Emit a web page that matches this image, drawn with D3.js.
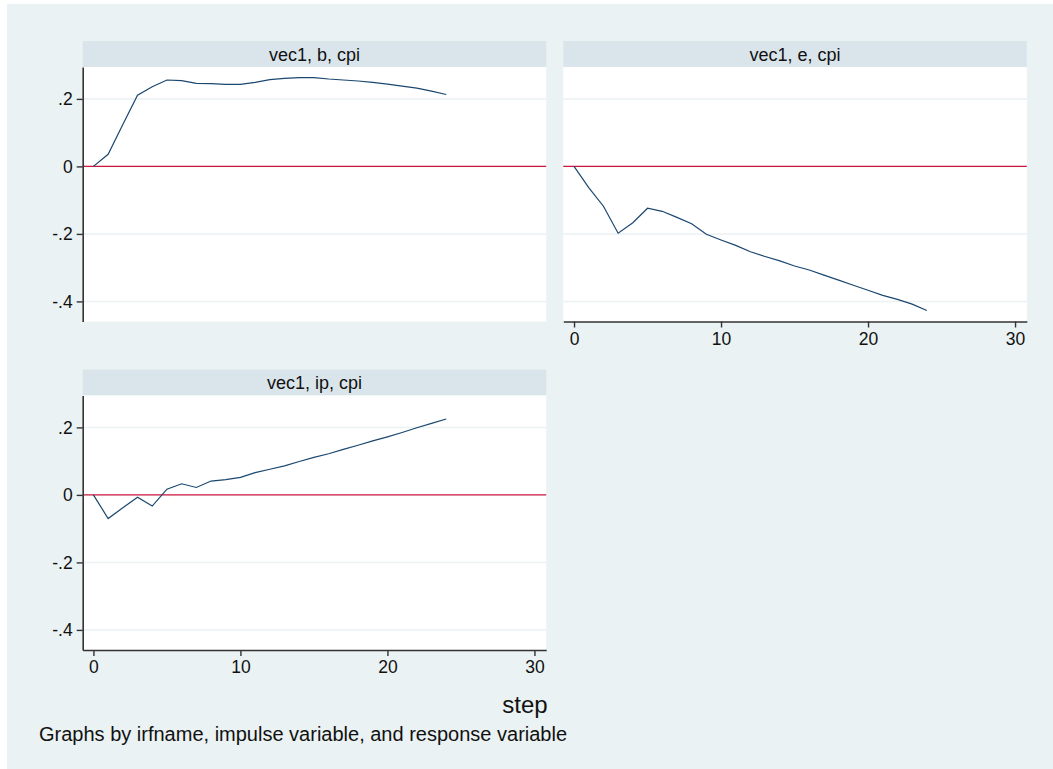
<!DOCTYPE html>
<html>
<head>
<meta charset="utf-8">
<script src="https://cdn.jsdelivr.net/npm/d3@7"></script>
<style>
  body { margin: 0; background: #ffffff; }
  svg { display: block; font-family: "Liberation Sans", Arial, Helvetica, sans-serif; }
</style>
</head>
<body>
<svg id="chart" width="1053" height="769"></svg>
<script>
// irf steps and responses
const steps = [0, 1, 2, 3, 4, 5, 6, 7, 8, 9, 10, 11, 12, 13, 14, 15, 16, 17, 18, 19, 20, 21, 22, 23, 24];
const irfB = [0, 0.036, 0.124, 0.211, 0.236, 0.256, 0.254, 0.246, 0.245, 0.243, 0.243, 0.249, 0.257, 0.261,
              0.263, 0.263, 0.259, 0.256, 0.253, 0.249, 0.244, 0.238, 0.232, 0.223, 0.213];
const irfE = [0, -0.063, -0.118, -0.198, -0.167, -0.124, -0.133, -0.151, -0.170, -0.201, -0.218, -0.234, -0.253,
              -0.267, -0.280, -0.295, -0.307, -0.322, -0.337, -0.352, -0.367, -0.382, -0.394, -0.408, -0.427];
const irfIp = [0, -0.070, -0.038, -0.007, -0.033, 0.017, 0.033, 0.022, 0.041, 0.045, 0.052, 0.066, 0.076,
               0.086, 0.099, 0.111, 0.122, 0.135, 0.147, 0.160, 0.172, 0.185, 0.199, 0.212, 0.225];
const panelTitles = ["vec1, b, cpi", "vec1, e, cpi", "vec1, ip, cpi"];
const xTicks = [0, 10, 20, 30];
const yTicks = [-0.4, -0.2, 0, 0.2];
const yTickLabels = ["-.4", "-.2", "0", ".2"];

const svg = d3.select("#chart");

// outer graph region
svg.append("rect")
    .attr("x", 7).attr("y", 4)
    .attr("width", 1046).attr("height", 765)
    .attr("fill", "#eaf2f3");

// panel layout: left, top of strip, which axes
const panels = [
    { title: panelTitles[0], values: irfB,  x: 82.7,  y: 41,    showX: false, showY: true },
    { title: panelTitles[1], values: irfE,  x: 563.3, y: 41,    showX: true,  showY: false },
    { title: panelTitles[2], values: irfIp, x: 82.7,  y: 369.5, showX: true,  showY: true }
];
const panelW = 463.5;
const stripH = 26;
const plotH = 254.5;

const xScale = d3.scaleLinear().domain([-0.73, 30.8]).range([0, panelW]);
const yScale = d3.scaleLinear().domain([-0.4595, 0.2945]).range([plotH, 0]);

panels.forEach(p => {
    const g = svg.append("g").attr("transform", `translate(${p.x},${p.y})`);

    // title strip
    g.append("rect")
        .attr("width", panelW).attr("height", stripH)
        .attr("fill", "#d9e5eb");
    g.append("text")
        .attr("x", panelW / 2).attr("y", stripH / 2 + 6.5)
        .attr("text-anchor", "middle")
        .attr("font-size", 18)
        .attr("fill", "#111")
        .text(p.title);

    const plot = g.append("g").attr("transform", `translate(0,${stripH})`);
    plot.append("rect")
        .attr("width", panelW).attr("height", plotH)
        .attr("fill", "#ffffff");

    // horizontal grid lines
    plot.selectAll(".grid")
        .data(yTicks)
        .join("line")
        .attr("x1", 0).attr("x2", panelW)
        .attr("y1", d => yScale(d)).attr("y2", d => yScale(d))
        .attr("stroke", "#eaf2f3")
        .attr("stroke-width", 1.5);

    // zero reference line
    plot.append("line")
        .attr("x1", 0).attr("x2", panelW)
        .attr("y1", yScale(0)).attr("y2", yScale(0))
        .attr("stroke", "#d0183f")
        .attr("stroke-width", 1.4);

    // response line
    const line = d3.line()
        .x((d, i) => xScale(steps[i]))
        .y(d => yScale(d));
    plot.append("path")
        .datum(p.values)
        .attr("d", line)
        .attr("fill", "none")
        .attr("stroke", "#1a476f")
        .attr("stroke-width", 1.2);

    if (p.showY) {
        const yAxis = d3.axisLeft(yScale)
            .tickValues(yTicks)
            .tickFormat((d, i) => yTickLabels[i])
            .tickSize(6)
            .tickPadding(4)
            .tickSizeOuter(0);
        const ya = plot.append("g").call(yAxis);
        ya.select(".domain").attr("stroke", "#333").attr("stroke-width", 1.6);
        ya.selectAll(".tick line").attr("stroke", "#333").attr("stroke-width", 1.4);
        ya.selectAll(".tick text")
            .attr("font-size", 17.5)
            .attr("font-family", "Liberation Sans, Arial, sans-serif")
            .attr("fill", "#111");
    }

    if (p.showX) {
        const xAxis = d3.axisBottom(xScale)
            .tickValues(xTicks)
            .tickSize(6)
            .tickPadding(5)
            .tickSizeOuter(0);
        const xa = plot.append("g")
            .attr("transform", `translate(0,${plotH})`)
            .call(xAxis);
        xa.select(".domain").attr("stroke", "#333").attr("stroke-width", 1.6);
        xa.selectAll(".tick line").attr("stroke", "#333").attr("stroke-width", 1.4);
        xa.selectAll(".tick text")
            .attr("font-size", 17.5)
            .attr("font-family", "Liberation Sans, Arial, sans-serif")
            .attr("fill", "#111");
    }
});

// x axis title and note
svg.append("text")
    .attr("x", 525).attr("y", 713)
    .attr("text-anchor", "middle")
    .attr("font-size", 24)
    .attr("fill", "#111")
    .text("step");

svg.append("text")
    .attr("x", 39).attr("y", 741)
    .attr("font-size", 20)
    .attr("fill", "#111")
    .text("Graphs by irfname, impulse variable, and response variable");
</script>
</body>
</html>
